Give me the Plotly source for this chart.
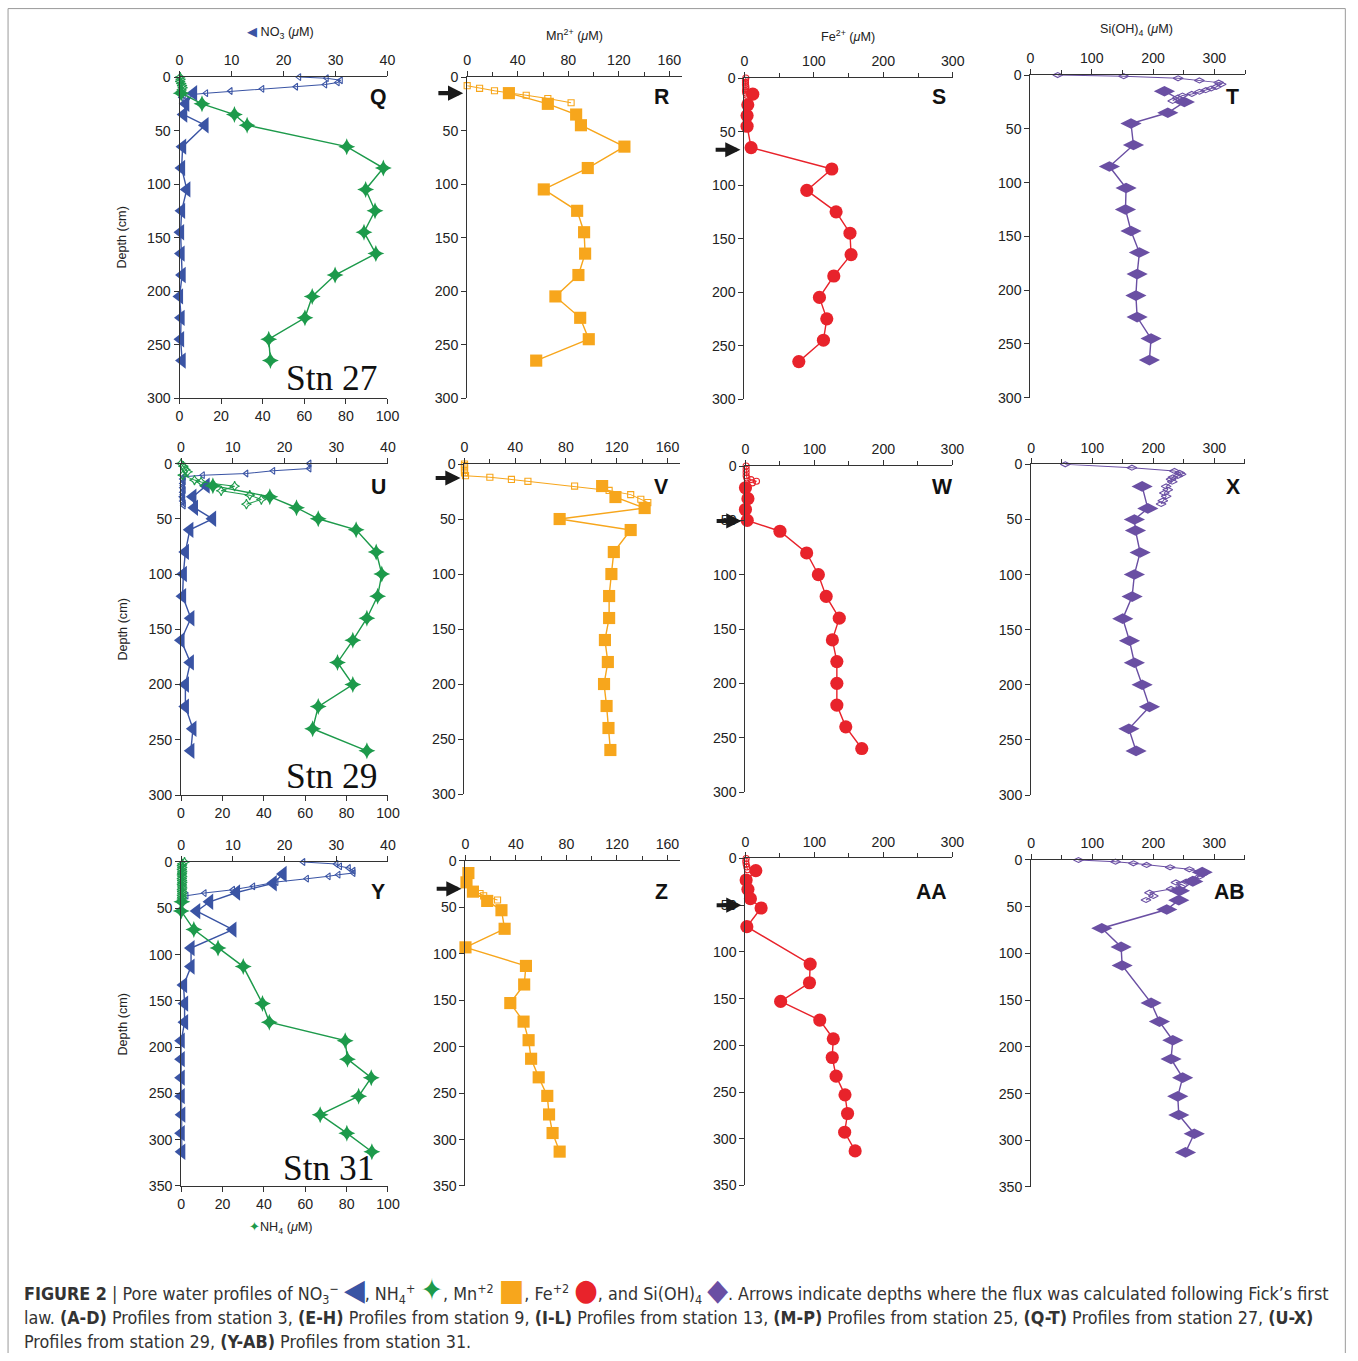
import plotly.graph_objects as go

# The photographed page is shrunk by S and the figure sits a few px inside the
# page, so every target page position t is mapped to figure pixel t/S - OFF.
W, H = 1358, 1361
S = 1358 / 1374
OFF_X = 4.5
OFF_Y = 8
K = 1 / S

# ---------------- data ----------------
# Station 27 (Q-T)
depth27 = [15, 25, 35, 45, 65, 85, 105, 125, 145, 165, 185, 205, 225, 245, 265]
no3_27 = [2.7, 1.2, 0.8, 4.9, 0.6, 0.4, 1.4, 0.4, 0.2, 0.3, 0.5, 0.0, 0.3, 0.2, 0.5]
no3_27_hr_depth = [0, 1, 3, 5, 7, 9, 11, 13, 15, 17, 19]
no3_27_hr = [23.0, 28.3, 31.0, 30.4, 28.0, 22.4, 15.9, 9.8, 5.1, 0.8, 0.4]
nh4_27 = [0.8, 10.8, 26.4, 32.5, 80.4, 98.0, 89.5, 94.0, 88.7, 94.4, 74.8, 63.8, 60.3, 42.9, 43.7]
nh4_27_hr_depth = [0, 2, 4, 6, 8, 10, 12, 14]
nh4_27_hr = [0.3, 0.5, 0.3, 0.8, 1.2, 1.5, 1.0, 0.5]
mn_27 = [33.0, 63.8, 86.2, 90.0, 124.4, 95.4, 60.6, 87.0, 92.5, 93.3, 88.0, 69.8, 89.4, 96.2, 54.6]
mn_27_hr_depth = [8, 10.5, 12.8, 17, 20, 24]
mn_27_hr = [0.0, 9.8, 21.6, 46.7, 63.8, 82.2]
fe_27 = [12.0, 4.8, 3.8, 3.8, 9.6, 125.8, 89.8, 132.0, 152.0, 153.6, 128.7, 108.0, 118.6, 113.8, 78.3]
fe_27_hr_depth = [0, 2, 4, 6, 8, 10, 12, 14, 16]
fe_27_hr = [2.0, 1.5, 1.5, 1.5, 2.0, 2.0, 1.5, 2.0, 3.0]
si_27 = [218.5, 251.0, 224.0, 164.0, 168.0, 128.8, 156.0, 155.0, 164.0, 177.7, 174.0, 172.0, 174.0, 196.7, 194.0]
si_27_hr_depth = [0, 1, 3, 5, 7, 8.5, 11, 12.5, 14, 15.5, 17.5, 19, 21, 24]
si_27_hr = [44.6, 152.0, 240.8, 275.5, 307.0, 311.0, 302.7, 294.6, 286.0, 275.5, 263.0, 248.0, 240.0, 232.0]

# Station 29 (U-X)
depth29 = [20, 30, 40, 50, 60, 80, 100, 120, 140, 160, 180, 200, 220, 240, 260]
no3_29 = [4.85, 2.3, 2.6, 6.1, 1.7, 0.84, 0.45, 0.3, 1.9, 0.0, 1.8, 0.84, 0.84, 2.3, 1.9]
no3_29_hr_depth = [0, 4.5, 6.6, 9, 10.5, 12, 14, 16, 18, 20, 22, 24, 26, 28, 30, 32, 34, 36, 38]
no3_29_hr = [24.8, 24.8, 17.8, 12.6, 4.2, 0.5, 0.3, 0.5, 0.3, 0.4, 0.3, 0.5, 0.3, 0.4, 0.2, 0.4, 0.3, 0.5, 0.5]
nh4_29 = [15.4, 42.9, 55.8, 66.3, 84.6, 94.3, 97.0, 95.0, 89.8, 83.0, 75.6, 83.0, 66.3, 63.6, 89.8]
nh4_29_hr_depth = [0, 2.4, 5.4, 7.5, 10.5, 15, 16.6, 20.5, 24.7, 28.6, 32.6, 36.8]
nh4_29_hr = [0.0, 1.1, 2.1, 3.2, 0.8, 6.5, 9.7, 25.9, 19.4, 33.2, 38.8, 31.6]
mn_29 = [108.5, 119.0, 142.0, 75.0, 131.0, 117.7, 115.8, 114.0, 114.0, 110.7, 113.0, 110.0, 112.0, 113.5, 115.0]
mn_29_hr_depth = [0, 1.5, 3.6, 5.7, 8, 10.6, 12, 14, 15.7, 20, 24, 27.8, 32, 35]
mn_29_hr = [0.0, 0.0, 0.0, 0.0, 0.0, 0.8, 20.0, 37.0, 50.0, 86.8, 114.0, 131.0, 139.0, 144.5]
fe_29 = [0.0, 3.6, 0.0, 2.6, 50.0, 88.7, 105.7, 117.0, 136.0, 126.0, 132.5, 132.5, 132.5, 145.4, 168.6]
fe_29_hr_depth = [0, 3, 6, 9, 11, 12.5, 14, 15.5]
fe_29_hr = [1.0, 1.0, 1.0, 1.0, 2.0, 8.0, 16.0, 10.0]
si_29_depth = [20, 40, 50, 60, 80, 100, 120, 140, 160, 180, 200, 220, 240, 260]
si_29 = [181.7, 191.0, 169.0, 170.8, 178.4, 169.0, 165.3, 150.0, 161.0, 169.0, 181.7, 193.7, 160.0, 171.8]
si_29_hr_depth = [0, 3, 6, 7.6, 9, 10.6, 11.8, 13.6, 15.7, 20, 23, 26, 29, 33, 36]
si_29_hr = [56.0, 165.0, 234.6, 243.0, 245.5, 240.0, 232.0, 229.0, 231.0, 221.0, 223.6, 218.0, 221.0, 215.5, 212.7]

# Station 31 (Y-AB)
depth31 = [13, 23, 33, 43, 53, 73, 93, 113, 133, 153, 173, 193, 213, 233, 253, 273, 293, 313]
no3_31 = [19.7, 17.8, 10.7, 5.5, 3.0, 10.0, 1.9, 1.9, 0.45, 0.65, 0.65, 0.0, 0.0, 0.0, 0.0, 0.1, 0.0, 0.1]
no3_31_hr_depth = [0, 2.2, 4.7, 6.5, 9.4, 12, 13.7, 15.5, 18, 21.7, 26.3, 30, 33.6, 36.4]
no3_31_hr = [23.6, 30.0, 30.7, 32.4, 33.3, 33.3, 30.4, 28.5, 24.3, 18.4, 13.9, 10.0, 4.5, 1.0]
nh4_31_depth = [43, 53, 73, 93, 113, 153, 173, 193, 213, 233, 253, 273, 293, 313]
nh4_31 = [0.3, 0.0, 6.1, 17.8, 30.0, 39.3, 42.6, 79.3, 80.4, 91.9, 85.8, 67.2, 80.1, 92.2]
nh4_31_hr_depth = [0, 2, 4, 6, 8, 10, 12, 14, 16, 18, 20, 22, 24, 26, 28, 30, 32, 34, 36, 38, 40]
nh4_31_hr = [1.6, 0.5, 0.3, 0.5, 0.3, 0.5, 0.4, 0.3, 0.5, 0.3, 0.4, 0.5, 0.3, 0.4, 0.5, 0.3, 0.4, 0.5, 0.3, 0.4, 0.3]
mn_31 = [2.3, 0.8, 5.9, 17.2, 28.5, 31.0, 0.0, 47.9, 46.5, 35.5, 46.0, 50.0, 52.0, 58.0, 64.8, 66.2, 69.0, 74.6]
mn_31_hr_depth = [31, 35, 37.5, 42]
mn_31_hr = [5.0, 11.5, 14.4, 25.4]
fe_31_depth = [13, 23, 33, 43, 53, 73, 113, 133, 153, 173, 193, 213, 233, 253, 273, 293, 313]
fe_31 = [15.0, 1.0, 3.6, 7.2, 22.7, 2.0, 93.8, 92.8, 51.0, 107.7, 127.3, 125.8, 131.4, 144.3, 148.0, 143.8, 159.0]
fe_31_hr_depth = [0, 3, 6, 9, 12]
fe_31_hr = [1.0, 0.5, 1.0, 2.0, 3.0]
si_31_depth = [13, 23, 33, 43, 53, 73, 93, 113, 153, 173, 193, 213, 233, 253, 273, 293, 313]
si_31 = [280.0, 264.6, 242.8, 241.7, 222.0, 115.7, 147.3, 149.0, 196.4, 210.0, 231.9, 229.0, 248.0, 240.0, 241.7, 267.0, 252.6]
si_31_hr_depth = [0, 1.8, 3.6, 5.3, 7.8, 10, 12.5, 15.3, 17.8, 20.3, 23.2, 24, 28.5, 31, 35, 38.5, 42.8]
si_31_hr = [77.5, 138.0, 167.5, 189.0, 227.5, 259.0, 278.0, 281.0, 275.5, 264.6, 253.7, 237.0, 245.0, 229.0, 193.7, 200.0, 188.0]

# flux arrows (panel index, depth)
arrow_panels = [1, 2, 5, 6, 9, 10]
arrow_depths = [15, 67, 12.7, 50.5, 30, 50]

panel_letters = ["Q", "R", "S", "T", "U", "V", "W", "X", "Y", "Z", "AA", "AB"]
station_labels = ["Stn 27", "Stn 29", "Stn 31"]

# ---------------- style ----------------
C_NO3 = "#3a54a4"
C_NH4 = "#1d9a4b"
C_MN = "#f7a61c"
C_FE = "#e8232b"
C_SI = "#6a4fa3"
AX = "#333333"
TICKFONT = dict(family="Liberation Sans, Arial, sans-serif", size=14 * K, color="#222")


def PX(t):
    return (t / S - OFF_X) / W


def PY(t):
    return 1 - (t / S - OFF_Y) / H


# panel geometry in page pixels: x0, x_end, xmax, dtick, minor, ytop, ybot, ymax
geom = [
    (180.0, 388.0, 40, 10, None, 77, 398, 300),
    (467.7, 682.6, 170, 40, 20, 77, 398, 300),
    (745.0, 953.3, 300, 100, 50, 78, 399, 300),
    (1031.0, 1245.7, 350, 100, 50, 75, 397.7, 300),
    (181.5, 388.5, 40, 10, None, 463.5, 795, 300),
    (465.0, 680.7, 170, 40, 20, 464, 794, 300),
    (746.0, 953.0, 300, 100, 50, 466, 792, 300),
    (1031.7, 1245.6, 350, 100, 50, 464.3, 795, 300),
    (181.7, 388.5, 40, 10, None, 862, 1186, 350),
    (466.0, 680.6, 170, 40, 20, 861, 1186, 350),
    (746.0, 953.0, 300, 100, 50, 858.5, 1185.5, 350),
    (1031.7, 1245.6, 350, 100, 50, 860, 1187, 350),
]

fig = go.Figure()


def axname(i):
    return "" if i == 0 else str(i + 1)


def series(x, y, xa, ya, color, sym, size, hollow):
    fig.add_trace(go.Scatter(
        x=x, y=y, xaxis=xa, yaxis=ya, mode="lines+markers",
        line=dict(color=color, width=(1.0 if hollow else 1.4) * K),
        marker=dict(symbol=sym + ("-open" if hollow else ""), size=size * K, color=color,
                    line=dict(color=color, width=1.1 if hollow else 0)),
        showlegend=False, hoverinfo="skip", cliponaxis=False))


stations = [
    dict(no3=(no3_27, depth27), no3hr=(no3_27_hr, no3_27_hr_depth), nh4=(nh4_27, depth27),
         nh4hr=(nh4_27_hr, nh4_27_hr_depth), mn=(mn_27, depth27), mnhr=(mn_27_hr, mn_27_hr_depth),
         fe=(fe_27, depth27), fehr=(fe_27_hr, fe_27_hr_depth), si=(si_27, depth27), sihr=(si_27_hr, si_27_hr_depth)),
    dict(no3=(no3_29, depth29), no3hr=(no3_29_hr, no3_29_hr_depth), nh4=(nh4_29, depth29),
         nh4hr=(nh4_29_hr, nh4_29_hr_depth), mn=(mn_29, depth29), mnhr=(mn_29_hr, mn_29_hr_depth),
         fe=(fe_29, depth29), fehr=(fe_29_hr, fe_29_hr_depth), si=(si_29, si_29_depth), sihr=(si_29_hr, si_29_hr_depth)),
    dict(no3=(no3_31, depth31), no3hr=(no3_31_hr, no3_31_hr_depth), nh4=(nh4_31, nh4_31_depth),
         nh4hr=(nh4_31_hr, nh4_31_hr_depth), mn=(mn_31, depth31), mnhr=(mn_31_hr, mn_31_hr_depth),
         fe=(fe_31, fe_31_depth), fehr=(fe_31_hr, fe_31_hr_depth), si=(si_31, si_31_depth), sihr=(si_31_hr, si_31_hr_depth)),
]

for r, st in enumerate(stations):
    b = 4 * r
    # column 1: NO3 (top axis) + NH4 (bottom axis)
    xa, ya = "x" + axname(b), "y" + axname(b)
    xb = "x" + str(13 + r)
    series(st["nh4hr"][0], st["nh4hr"][1], xb, ya, C_NH4, "star-diamond", 7, True)
    series(st["nh4"][0], st["nh4"][1], xb, ya, C_NH4, "star-diamond", 12, False)
    series(st["no3hr"][0], st["no3hr"][1], xa, ya, C_NO3, "triangle-left", 6, True)
    series(st["no3"][0], st["no3"][1], xa, ya, C_NO3, "triangle-left", 14, False)
    # Mn
    xa, ya = "x" + axname(b + 1), "y" + axname(b + 1)
    series(st["mnhr"][0], st["mnhr"][1], xa, ya, C_MN, "square", 6, True)
    series(st["mn"][0], st["mn"][1], xa, ya, C_MN, "square", 12, False)
    # Fe
    xa, ya = "x" + axname(b + 2), "y" + axname(b + 2)
    series(st["fehr"][0], st["fehr"][1], xa, ya, C_FE, "circle", 6, True)
    series(st["fe"][0], st["fe"][1], xa, ya, C_FE, "circle", 13, False)
    # Si
    xa, ya = "x" + axname(b + 3), "y" + axname(b + 3)
    series(st["sihr"][0], st["sihr"][1], xa, ya, C_SI, "diamond-wide", 7, True)
    series(st["si"][0], st["si"][1], xa, ya, C_SI, "diamond-wide", 15, False)

layout = dict(
    width=W, height=H, margin=dict(l=0, r=0, t=0, b=0),
    paper_bgcolor="white", plot_bgcolor="rgba(0,0,0,0)", showlegend=False,
)

for i, (x0, x1, xmax, dt, mn, yt, yb, ymax) in enumerate(geom):
    n = axname(i)
    xd = dict(domain=[PX(x0), PX(x1)], range=[0, xmax], anchor="y" + n, side="top",
              showline=True, linecolor=AX, linewidth=1, ticks="outside", ticklen=5, tickcolor=AX,
              dtick=dt, tick0=0, tickfont=TICKFONT, showgrid=False, zeroline=False, fixedrange=True)
    if mn:
        xd["minor"] = dict(dtick=mn, tick0=0, ticks="outside", ticklen=4, tickcolor=AX, showgrid=False)
    layout["xaxis" + n] = xd
    layout["yaxis" + n] = dict(domain=[PY(yb), PY(yt)], range=[ymax, 0], anchor="x" + n, side="left",
                               showline=True, linecolor=AX, linewidth=1, ticks="outside", ticklen=5,
                               tickcolor=AX, dtick=50, tick0=0, tickfont=TICKFONT, showgrid=False,
                               zeroline=False, fixedrange=True)

for r in range(3):
    n = axname(4 * r)
    layout["xaxis" + str(13 + r)] = dict(
        overlaying="x" + n, anchor="y" + n, side="bottom", range=[0, 100], dtick=20, tick0=0,
        showline=True, linecolor=AX, linewidth=1, ticks="outside", ticklen=5, tickcolor=AX,
        tickfont=TICKFONT, showgrid=False, zeroline=False, fixedrange=True)

fig.update_layout(**layout)

ann = []
# axis titles
TF = dict(family="Liberation Sans, Arial, sans-serif", size=12.5 * K, color="#222")
ann.append(dict(x=PX(281), y=PY(33), text='<span style="color:%s">◀</span> NO<sub>3</sub> (<i>μ</i>M)' % C_NO3, font=TF))
ann.append(dict(x=PX(575), y=PY(35), text="Mn<sup>2+</sup> (<i>μ</i>M)", font=TF))
ann.append(dict(x=PX(849), y=PY(36), text="Fe<sup>2+</sup> (<i>μ</i>M)", font=TF))
ann.append(dict(x=PX(1137), y=PY(30), text="Si(OH)<sub>4</sub> (<i>μ</i>M)", font=TF))
ann.append(dict(x=PX(281), y=PY(1228), text='<span style="color:%s">✦</span>NH<sub>4</sub> (<i>μ</i>M)' % C_NH4, font=TF))
for yy in (238, 630, 1025):
    ann.append(dict(x=PX(123), y=PY(yy), text="Depth (cm)", textangle=-90, font=TF))

# panel letters
letter_pos = [(379, 97), (662, 97), (940, 97), (1233, 97),
              (379, 487), (662, 487), (943, 487), (1234, 487),
              (378, 892), (662, 892), (932, 892), (1230, 892)]
for lab, (lx, ly) in zip(panel_letters, letter_pos):
    ann.append(dict(x=PX(lx), y=PY(ly), text="<b>%s</b>" % lab,
                    font=dict(family="Liberation Sans, Arial, sans-serif", size=21 * K, color="#111")))

# station labels
for lab, (sx, sy) in zip(station_labels, [(332, 378), (332, 776), (329, 1168)]):
    ann.append(dict(x=PX(sx), y=PY(sy), text=lab,
                    font=dict(family="Liberation Serif, Times New Roman, serif", size=35 * K, color="#111")))

for a in ann:
    a.update(xref="paper", yref="paper", showarrow=False, xanchor="center", yanchor="middle")

# flux arrows
for pi, d in zip(arrow_panels, arrow_depths):
    x0 = geom[pi][0]
    ann.append(dict(x=PX(x0 - 4), y=d, xref="paper", yref="y" + axname(pi), ax=-26 * K, ay=0,
                    showarrow=True, arrowhead=2, arrowsize=0.75, arrowwidth=4 * K, arrowcolor="#1a1a1a", text=""))

# caption
CF = dict(family="Liberation Sans Narrow, Arial Narrow, DejaVu Sans Condensed, sans-serif", size=17.6 * K, color="#333")
sym = '<span style="color:%s;font-size:%dpx">%s</span>'
SZ = 30
line1 = ("<b>FIGURE 2</b> | Pore water profiles of NO<sub>3</sub><sup>−</sup> " + sym % (C_NO3, SZ, "◀")
         + ", NH<sub>4</sub><sup>+</sup> " + sym % (C_NH4, SZ, "✦") + ", Mn<sup>+2</sup> " + sym % (C_MN, SZ, "■")
         + ", Fe<sup>+2</sup> " + sym % (C_FE, SZ, "●") + ", and Si(OH)<sub>4</sub> " + sym % (C_SI, SZ, "◆")
         + ". Arrows indicate depths where the flux was calculated following Fick’s first")
line2 = ("law. <b>(A-D)</b> Profiles from station 3, <b>(E-H)</b> Profiles from station 9, "
         "<b>(I-L)</b> Profiles from station 13, <b>(M-P)</b> Profiles from station 25, "
         "<b>(Q-T)</b> Profiles from station 27, <b>(U-X)</b>")
line3 = "Profiles from station 29, <b>(Y-AB)</b> Profiles from station 31."
for txt, yy in ((line1, 1290), (line2, 1318), (line3, 1342)):
    ann.append(dict(x=PX(22), y=PY(yy), xref="paper", yref="paper", text=txt, showarrow=False,
                    xanchor="left", yanchor="middle", font=CF))

fig.update_layout(annotations=ann)

# frame
FR = dict(color="#9a9a9a", width=1)
xr = min(PX(1356), 0.9995)
fig.update_layout(shapes=[
    dict(type="line", xref="paper", yref="paper", x0=PX(8.5), x1=xr, y0=PY(8.5), y1=PY(8.5), line=FR),
    dict(type="line", xref="paper", yref="paper", x0=PX(8.5), x1=PX(8.5), y0=PY(8.5), y1=0, line=FR),
    dict(type="line", xref="paper", yref="paper", x0=xr, x1=xr, y0=PY(8.5), y1=0, line=FR),
])

fig.write_html("out.html")
